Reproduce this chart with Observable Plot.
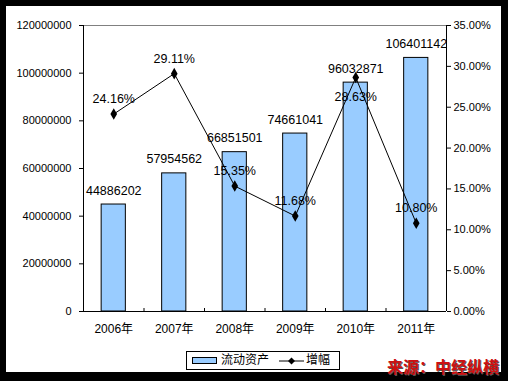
<!DOCTYPE html>
<html>
<head>
<meta charset="utf-8">
<script src="https://cdn.jsdelivr.net/npm/d3@7"></script>
<script src="https://cdn.jsdelivr.net/npm/@observablehq/plot@0.6"></script>
<style>
  body { margin: 0; background: #000; }
  #wrap { position: relative; width: 508px; height: 381px; background: #000; overflow: hidden;
          font-family: "Liberation Sans", Arial, "Noto Sans CJK SC", sans-serif; }
  #panel { position: absolute; left: 6px; top: 6px; width: 495px; height: 366px; background: #fff; }
  #chart { position: absolute; left: 0; top: 0; }
  #legend { position: absolute; left: 186px; top: 351px; width: 152px; height: 17px;
            border: 1px solid #000; background: #fff; font-size: 12px; color: #000; }
  #legend .sw { position: absolute; left: 5px; top: 5px; width: 25px; height: 7px; box-sizing: border-box;
                background: #99CCFF; border: 1px solid #000; }
  #legend .t1 { position: absolute; left: 34px; top: 0; line-height: 17px; }
  #legend svg { position: absolute; left: 92px; top: 0; }
  #legend .t2 { position: absolute; left: 119px; top: 0; line-height: 17px; }
  #source { position: absolute; left: 387px; top: 358px; font: bold 16px/16px "Noto Sans CJK SC", sans-serif;
            color: #CC1111; text-shadow: 1px 1px 0 #555; white-space: nowrap; }
</style>
</head>
<body>
<div id="wrap">
  <div id="panel"></div>
  <div id="chart"></div>
  <div id="legend">
    <div class="sw"></div>
    <div class="t1">流动资产</div>
    <svg width="25" height="17"><line x1="0" y1="9" x2="25" y2="9" stroke="#000" stroke-width="1"/><path d="M12.5,5.5L16,9L12.5,12.5L9,9Z" fill="#000"/></svg>
    <div class="t2">增幅</div>
  </div>
  <div id="source">来源：中经纵横</div>
</div>
<script>
const years = ["2006年", "2007年", "2008年", "2009年", "2010年", "2011年"];
const assets = [44886202, 57954562, 66851501, 74661041, 96032871, 106401142];
const growth = [24.16, 29.11, 15.35, 11.68, 28.63, 10.80];
const leftTicks = [0, 20000000, 40000000, 60000000, 80000000, 100000000, 120000000];
const rightTicks = [0, 5, 10, 15, 20, 25, 30, 35];
const yMax = 120000000;
const pctMax = 35;
const k = yMax / pctMax;
const barHalf = 0.2;

const data = years.map((year, i) => ({ i, year, assets: assets[i], growth: growth[i] }));
const cx = d => d.i + 0.5;
const gy = d => d.growth * k;

const plot = Plot.plot({
  width: 508, height: 381,
  marginLeft: 83, marginRight: 62, marginTop: 25, marginBottom: 70,
  style: { background: "transparent", fontSize: "12px",
           fontFamily: '"Liberation Sans", Arial, "Noto Sans CJK SC", sans-serif', color: "#000" },
  x: { type: "linear", domain: [0, years.length], axis: null },
  y: { domain: [0, yMax], axis: null, label: null },
  marks: [
    Plot.rectY(data, { x1: d => cx(d) - barHalf, x2: d => cx(d) + barHalf, y1: 0, y2: "assets",
                       fill: "#99CCFF", stroke: "#000", strokeWidth: 1 }),
    Plot.ruleY([yMax], { stroke: "#808080" }),
    Plot.ruleY([0], { stroke: "#000" }),
    Plot.ruleX([0, years.length], { stroke: "#000" }),
    Plot.axisY({ anchor: "left", ticks: leftTicks, tickSize: 4, tickPadding: 8, label: null, fontSize: 11,
                 tickFormat: d => String(d) }),
    Plot.axisY({ anchor: "right", ticks: rightTicks.map(p => p * k), tickSize: 4, tickPadding: 3, label: null, fontSize: 11,
                 tickFormat: v => (v / k).toFixed(2) + "%" }),
    Plot.axisX({ ticks: d3.range(0, years.length + 1), tickSize: -3, tickFormat: () => "", label: null }),
    Plot.axisX({ ticks: data.map(cx), tickSize: 0, tickPadding: 13, label: null, fontSize: 12,
                 tickFormat: v => years[Math.floor(v)] }),
    Plot.line(data, { x: cx, y: gy, stroke: "#000", strokeWidth: 1 }),
    Plot.dot(data, { x: cx, y: gy, symbol: "diamond", r: 3.5, fill: "#000" }),
    Plot.text(data, { x: cx, y: "assets", text: d => String(d.assets), dy: -14, fill: "#000", fontSize: 12.5 }),
    Plot.text(data.filter(d => d.year !== "2010年"), { x: cx, y: gy, text: d => d.growth.toFixed(2) + "%", dy: -15, fill: "#000", fontSize: 12.5 }),
    Plot.text(data.filter(d => d.year === "2010年"), { x: cx, y: gy, text: d => d.growth.toFixed(2) + "%", dy: 19, fill: "#000", fontSize: 12.5 })
  ]
});
document.getElementById("chart").appendChild(plot);
</script>
</body>
</html>
